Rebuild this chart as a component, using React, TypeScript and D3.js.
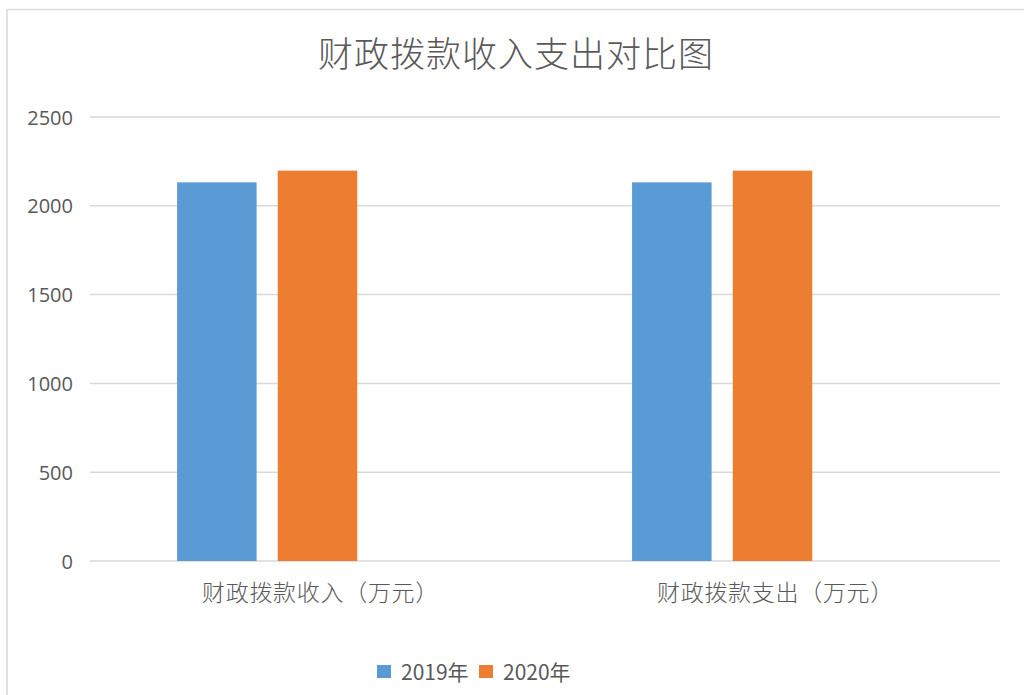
import React from "react";
import * as d3 from "d3";

const categories = ["财政拨款收入（万元）", "财政拨款支出（万元）"];
const seriesNames = ["2019年", "2020年"];
const values2019 = [2132, 2132];
const values2020 = [2198, 2198];
const yTicks = [0, 500, 1000, 1500, 2000, 2500];
const title = "财政拨款收入支出对比图";
const colors = ["#5B9BD5", "#ED7D31"];

const W = 1024;
const H = 695;
const M = { left: 90, right: 1000, top: 117, bottom: 561 };

export default function App() {
  const series = [values2019, values2020];
  const x0 = d3.scaleBand<string>().domain(categories).range([M.left, M.right]).padding(0);
  // three slots per category (third slot empty, as in the source chart)
  const slots = ["s0", "s1", "s2"];
  const x1 = d3
    .scaleBand<string>()
    .domain(slots)
    .range([0, x0.bandwidth()])
    .paddingInner(0.21)
    .paddingOuter(0.865);
  const y = d3.scaleLinear().domain([0, 2500]).range([M.bottom, M.top]);
  const cjk = "'Noto Sans CJK SC', 'Noto Sans', sans-serif";
  const num = "'Open Sans', 'Noto Sans', sans-serif";

  return (
    <svg
      width={W}
      height={H}
      style={{ position: "absolute", left: 0, top: 0, background: "#fff" }}
    >
      <line x1={7} x2={7} y1={9} y2={H} stroke="#d9d9d9" strokeWidth={1.5} />
      <line x1={7} x2={W} y1={9.5} y2={9.5} stroke="#d9d9d9" strokeWidth={1.5} />
      <text
        x={516}
        y={51}
        textAnchor="middle"
        dominantBaseline="central"
        fontFamily={cjk}
        fontWeight={300}
        fontSize={35}
        fill="#595959"
        letterSpacing={1}
      >
        {title}
      </text>
      {yTicks.map((t) => (
        <g key={t}>
          <line x1={M.left} x2={M.right} y1={y(t)} y2={y(t)} stroke="#d9d9d9" strokeWidth={1.5} />
          <text
            x={73}
            y={y(t)}
            textAnchor="end"
            dominantBaseline="central"
            fontFamily={num}
            fontSize={20}
            fill="#595959"
          >
            {t}
          </text>
        </g>
      ))}
      {categories.map((c, ci) => (
        <g key={c} transform={`translate(${x0(c)},0)`}>
          {series.map((vals, si) => (
            <rect
              key={si}
              x={x1(slots[si])}
              width={x1.bandwidth()}
              y={y(vals[ci])}
              height={y(0) - y(vals[ci])}
              fill={colors[si]}
            />
          ))}
          <text
            x={x0.bandwidth() / 2 + 3}
            y={591}
            textAnchor="middle"
            dominantBaseline="central"
            fontFamily={cjk}
            fontWeight={300}
            fontSize={23}
            letterSpacing={0.7}
            fill="#595959"
          >
            {c}
          </text>
        </g>
      ))}
      <g>
        {seriesNames.map((n, i) => {
          const lx = 377 + i * 102;
          return (
            <g key={n}>
              <rect x={lx} y={665} width={14} height={13} fill={colors[i]} />
              <text
                x={lx + 24}
                y={671}
                dominantBaseline="central"
                fontFamily={cjk}
                fontSize={21}
                fill="#595959"
              >
                {n}
              </text>
            </g>
          );
        })}
      </g>
    </svg>
  );
}
